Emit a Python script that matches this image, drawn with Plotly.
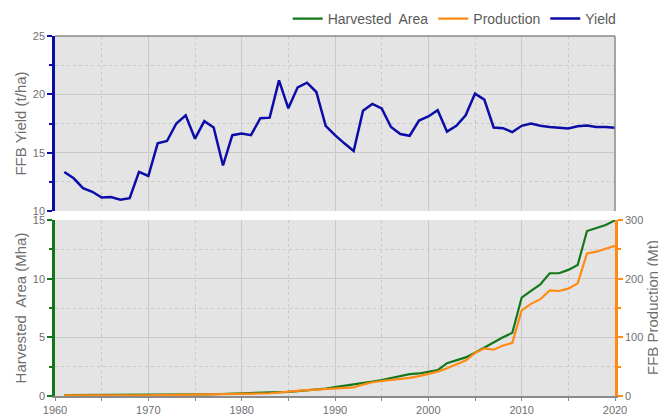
import plotly.graph_objects as go

years = list(range(1961, 2021))

yield_t_ha = [13.35, 12.8, 11.96, 11.65, 11.16, 11.2, 10.97, 11.1, 13.35, 13.0,
              15.8, 16.0, 17.5, 18.2, 16.2, 17.7, 17.16, 13.9, 16.5, 16.65,
              16.5, 17.95, 18.0, 21.2, 18.8, 20.6, 21.0, 20.2, 17.3, 16.5,
              15.8, 15.15, 18.6, 19.18, 18.8, 17.2, 16.6, 16.45, 17.75, 18.1,
              18.64, 16.8, 17.3, 18.2, 20.06, 19.55, 17.16, 17.1, 16.76, 17.3,
              17.5, 17.3, 17.2, 17.15, 17.07, 17.27, 17.33, 17.2, 17.2, 17.13]

area_mha = [0.08, 0.08, 0.08, 0.08, 0.08, 0.08, 0.08, 0.08, 0.08, 0.09,
            0.09, 0.1, 0.1, 0.11, 0.12, 0.13, 0.15, 0.17, 0.19, 0.21,
            0.22, 0.24, 0.26, 0.3, 0.36, 0.42, 0.48, 0.55, 0.63, 0.75,
            0.86, 0.97, 1.05, 1.22, 1.36, 1.53, 1.73, 1.87, 1.92, 2.04,
            2.2, 2.8, 3.06, 3.29, 3.69, 4.14, 4.6, 5.0, 5.39, 8.39,
            8.96, 9.5, 10.46, 10.46, 10.75, 11.17, 14.06, 14.3, 14.57, 14.97]

production_mt = [1.1, 1.0, 0.96, 0.93, 0.9, 0.9, 0.88, 0.89, 1.07, 1.17,
                 1.42, 1.6, 1.75, 2.0, 1.94, 2.3, 2.57, 2.36, 3.1, 3.5,
                 3.6, 4.3, 4.7, 6.4, 6.8, 8.6, 10.1, 11.1, 10.9, 12.4,
                 13.6, 14.7, 19.5, 23.4, 25.6, 27.0, 29.0, 31.0, 34.0, 37.5,
                 41.5, 47.3, 53.5, 60.5, 73.5, 81.0, 79.0, 86.0, 90.5, 146,
                 157, 165, 180, 179, 183, 192, 243, 246, 251, 256]

BLUE = "#0c0ca8"
GREEN = "#13781a"
ORANGE = "#ff8a14"
GREY_TXT = "#6f6f6f"
FONT = "Liberation Sans, Arial, sans-serif"

fig = go.Figure()

fig.add_trace(go.Scatter(x=years, y=yield_t_ha, mode="lines", name="Yield",
                         line=dict(color=BLUE, width=2.5), xaxis="x", yaxis="y",
                         legendrank=3))
fig.add_trace(go.Scatter(x=years, y=area_mha, mode="lines", name="Harvested\u00a0 Area",
                         line=dict(color=GREEN, width=2.2), xaxis="x2", yaxis="y2",
                         legendrank=1))
fig.add_trace(go.Scatter(x=years, y=production_mt, mode="lines", name="Production",
                         line=dict(color=ORANGE, width=2.2), xaxis="x2", yaxis="y3",
                         legendrank=2))

grid = "#c9c9c9"
tickfont = dict(family=FONT, size=11, color=GREY_TXT)
titlefont = dict(family=FONT, size=15, color=GREY_TXT)

PLOT_BOTTOM = 396
PLOT_H = PLOT_BOTTOM - 36
top_lo = (PLOT_BOTTOM - 211) / PLOT_H
bot_hi = (PLOT_BOTTOM - 220) / PLOT_H

# page body has an 8px default margin, so the figure is sized/offset to compensate
fig.update_layout(
    width=658, height=408,
    margin=dict(l=47, r=51, t=28, b=20, autoexpand=False),
    paper_bgcolor="white",
    plot_bgcolor="#e4e4e4",
    font=dict(family=FONT, color=GREY_TXT),
    showlegend=True,
    legend=dict(orientation="h", x=1.012, xanchor="right", y=(PLOT_BOTTOM - 19) / PLOT_H,
                yanchor="middle",
                font=dict(family=FONT, size=14, color="#5a5a5a"),
                bgcolor="rgba(0,0,0,0)", traceorder="normal", itemwidth=30,
                tracegroupgap=0),
    xaxis=dict(domain=[0, 1], anchor="y", range=[1960, 2020], showticklabels=False,
               ticks="", dtick=10, tick0=1960, showgrid=True, gridcolor=grid, gridwidth=1,
               minor=dict(dtick=5, tick0=1960, showgrid=True, gridcolor=grid, griddash="dot"),
               zeroline=False, showline=False, automargin=False),
    yaxis=dict(domain=[top_lo, 1], anchor="x", range=[10, 25], dtick=5, tick0=10,
               showline=True, linecolor=BLUE, linewidth=2.5,
               ticks="outside", ticklen=5, tickwidth=2, tickcolor=BLUE,
               tickfont=tickfont, showgrid=True, gridcolor=grid,
               minor=dict(dtick=2.5, tick0=10, ticks="outside", ticklen=3, tickcolor=BLUE,
                          showgrid=True, gridcolor=grid, griddash="dot"),
               title=dict(text="FFB Yield (t/ha)", font=titlefont, standoff=3),
               zeroline=False, automargin=False),
    xaxis2=dict(domain=[0, 1], anchor="y2", range=[1960, 2020], dtick=10, tick0=1960,
                showline=True, linecolor="#8a8a8a", linewidth=1.5,
                ticks="outside", ticklen=3, tickcolor="#8a8a8a", tickfont=tickfont,
                showgrid=True, gridcolor=grid,
                minor=dict(dtick=5, tick0=1960, ticks="outside", ticklen=3, tickcolor="#8a8a8a",
                           showgrid=True, gridcolor=grid, griddash="dot"),
                zeroline=False, automargin=False),
    yaxis2=dict(domain=[0, bot_hi], anchor="x2", range=[0, 15], dtick=5, tick0=0,
                showline=True, linecolor=GREEN, linewidth=2.5,
                ticks="outside", ticklen=5, tickwidth=2, tickcolor=GREEN,
                tickfont=tickfont, showgrid=True, gridcolor=grid,
                minor=dict(dtick=2.5, tick0=0, ticks="outside", ticklen=3, tickcolor=GREEN,
                           showgrid=True, gridcolor=grid, griddash="dot"),
                title=dict(text="Harvested\u00a0 Area (Mha)", font=titlefont, standoff=3),
                zeroline=False, automargin=False),
    yaxis3=dict(overlaying="y2", anchor="x2", side="right", range=[0, 300], dtick=100, tick0=0,
                showline=True, linecolor=ORANGE, linewidth=2.5,
                ticks="outside", ticklen=5, tickwidth=2, tickcolor=ORANGE,
                tickfont=tickfont, showgrid=False,
                minor=dict(dtick=50, tick0=0, ticks="outside", ticklen=3, tickcolor=ORANGE,
                           showgrid=False),
                zeroline=False, automargin=False),
    annotations=[
        dict(text="FFB Production (Mt)", xref="paper", yref="paper",
             x=(652 - 55) / 560, y=bot_hi / 2, xanchor="center", yanchor="middle",
             textangle=-90, showarrow=False, font=titlefont),
    ],
    shapes=[
        dict(type="line", xref="x domain", yref="y domain", x0=0, x1=1, y0=1, y1=1,
             line=dict(color="#8a8a8a", width=1.5), layer="above"),
        dict(type="line", xref="x domain", yref="y domain", x0=1, x1=1, y0=0, y1=1,
             line=dict(color="#8a8a8a", width=1.5), layer="above"),
    ],
)

fig.write_html("out.html")
